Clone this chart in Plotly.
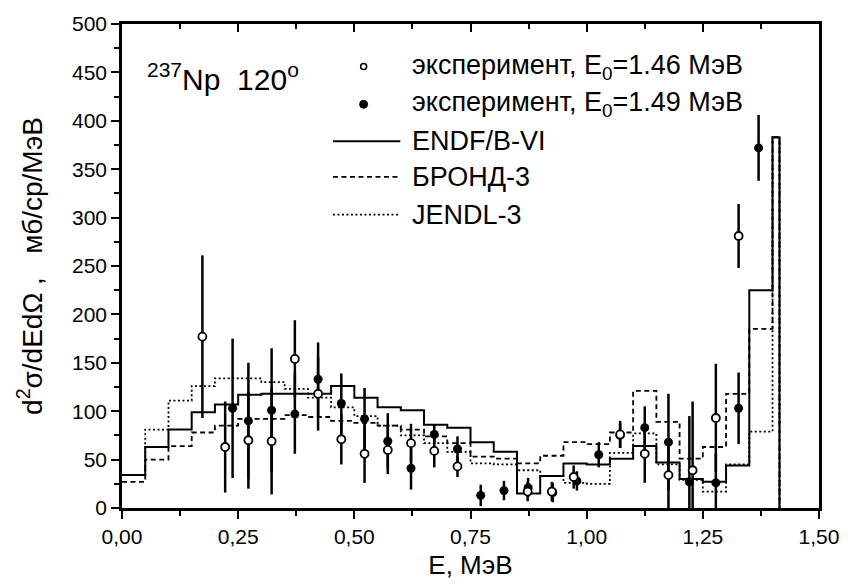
import plotly.graph_objects as go

# ---------------- data ----------------
bin_edges = [0.00, 0.05, 0.10, 0.15, 0.20, 0.25, 0.30, 0.35, 0.40, 0.45,
             0.50, 0.55, 0.60, 0.65, 0.70, 0.75, 0.80, 0.85, 0.90, 0.95,
             1.00, 1.05, 1.10, 1.15, 1.20, 1.25, 1.30, 1.35, 1.40, 1.415]

endf = [34, 63, 81, 99, 107, 117, 118, 118, 118, 126, 114, 104, 101, 86, 83,
        68, 58, 15, 33, 46, 45, 51, 64, 47, 30, 27, 44, 225, 383]
brond = [27, 50, 64, 78, 85, 92, 92, 96, 94, 90, 88, 85, 81, 74, 67,
         53, 51, 46, 54, 68, 66, 78, 121, 89, 51, 63, 118, 185, 383]
jendl = [34, 81, 111, 126, 134, 134, 130, 123, 114, 104, 95, 85, 75, 67, 58,
         46, 45, 39, 33, 26, 25, 57, 77, 45, 29, 17, 45, 79, 383]

open_E = [0.173, 0.222, 0.272, 0.322, 0.372, 0.422, 0.472, 0.522, 0.572, 0.622,
          0.672, 0.722, 0.873, 0.925, 0.972, 1.072, 1.125, 1.176, 1.228, 1.278, 1.327]
open_v = [177, 63, 70, 69, 154, 118, 71, 56, 60, 67,
          59, 43, 17, 17, 32, 76, 56, 34, 39, 93, 281]
open_err = [84, 47, 50, 55, 40, 38, 26, 30, 25, 20,
            17, 11, 10, 10, 12, 14, 30, 34, 71, 56, 33]

filled_E = [0.238, 0.272, 0.322, 0.372, 0.422, 0.472, 0.522, 0.572, 0.622, 0.672,
            0.722, 0.772, 0.822, 0.874, 0.927, 0.979, 1.026, 1.072, 1.125, 1.176,
            1.221, 1.278, 1.327, 1.370]
filled_v = [103, 90, 101, 97, 133, 108, 92, 69, 41, 76,
            61, 13, 18, 21, 16, 28, 55, 75, 83, 68,
            27, 26, 103, 372]
filled_err = [72, 60, 64, 41, 38, 31, 32, 29, 22, 10,
              13, 11, 10, 10, 10, 10, 13, 13, 22, 50,
              68, 30, 37, 34]

x_ticks = [0.00, 0.25, 0.50, 0.75, 1.00, 1.25, 1.50]
y_ticks = [0, 50, 100, 150, 200, 250, 300, 350, 400, 450, 500]

legend_labels = ["эксперимент, E<sub>0</sub>=1.46 МэВ",
                 "эксперимент, E<sub>0</sub>=1.49 МэВ",
                 "ENDF/B-VI", "БРОНД-3", "JENDL-3"]

FONT = "Liberation Sans, Arial, sans-serif"
NB = "\u00a0"


def step_xy(edges, vals):
    xs = list(edges)
    ys = list(vals) + [vals[-1]]
    xs.append(edges[-1])
    ys.append(0)
    return xs, ys


fig = go.Figure()

for vals, dash in [(jendl, "2px,2.5px"), (brond, "5px,3.5px"), (endf, "solid")]:
    xs, ys = step_xy(bin_edges, vals)
    fig.add_trace(go.Scatter(x=xs, y=ys, mode="lines", line_shape="hv",
                             line=dict(color="black", width=2 if dash == "solid" else 1.8, dash=dash),
                             showlegend=False, hoverinfo="skip"))

fig.add_trace(go.Scatter(x=filled_E, y=filled_v, mode="markers",
                         marker=dict(symbol="circle", size=9, color="black"),
                         error_y=dict(type="data", array=filled_err, color="black", thickness=2.5, width=0),
                         showlegend=False))
fig.add_trace(go.Scatter(x=open_E, y=open_v, mode="markers",
                         marker=dict(symbol="circle", size=8, color="white", line=dict(color="black", width=1.8)),
                         error_y=dict(type="data", array=open_err, color="black", thickness=2.5, width=0),
                         showlegend=False))
# invisible trace to activate the top axis (ticks inside)
fig.add_trace(go.Scatter(x=[None], y=[None], xaxis="x2", showlegend=False, hoverinfo="skip"))

# ---------------- legend (manual) ----------------
row_y = [456, 417, 379, 342, 303]
shapes = []
annotations = []
mx = 0.52
shapes.append(dict(type="circle", xref="x", yref="y", xsizemode="pixel", ysizemode="pixel",
                   xanchor=mx, yanchor=row_y[0], x0=-3, x1=3, y0=-3, y1=3,
                   line=dict(color="black", width=1.5), fillcolor="white"))
shapes.append(dict(type="circle", xref="x", yref="y", xsizemode="pixel", ysizemode="pixel",
                   xanchor=mx, yanchor=row_y[1], x0=-4, x1=4, y0=-4, y1=4,
                   line=dict(color="black", width=1), fillcolor="black"))
for yy, dash, w in [(row_y[2], "solid", 2), (row_y[3], "5px,3.5px", 1.8), (row_y[4], "2px,2.5px", 1.8)]:
    shapes.append(dict(type="line", xref="x", yref="y", x0=0.454, x1=0.599, y0=yy, y1=yy,
                       line=dict(color="black", width=w, dash=dash)))
for yy, lab in zip(row_y, legend_labels):
    annotations.append(dict(x=0.62, y=yy, xref="x", yref="y", text=lab, showarrow=False,
                            xanchor="left", yanchor="middle",
                            font=dict(family=FONT, size=27, color="black")))
annotations.append(dict(x=0.05, y=445, xref="x", yref="y",
                        text="<sup>237</sup>Np" + NB * 2 + "120<sup>o</sup>",
                        showarrow=False, xanchor="left", yanchor="middle",
                        font=dict(family=FONT, size=30, color="black")))

fig.update_layout(
    width=851, height=587,
    margin=dict(l=122, r=23, t=18, b=74),
    paper_bgcolor="white", plot_bgcolor="white",
    separators=", ",
    font=dict(family=FONT, color="black"),
    shapes=shapes, annotations=annotations,
    xaxis=dict(range=[0, 1.5], tickvals=x_ticks, tickformat=".2f",
               ticks="outside", ticklen=8, tickwidth=2, tickcolor="black",
               minor=dict(dtick=0.125, tick0=0, ticks="outside", ticklen=5, tickwidth=2, tickcolor="black"),
               showline=True, linecolor="black", linewidth=2.5, mirror=True,
               showgrid=False, zeroline=False,
               tickfont=dict(family=FONT, size=21, color="black"),
               title=dict(text="E, МэВ", font=dict(family=FONT, size=26, color="black"), standoff=9)),
    xaxis2=dict(range=[0, 1.5], overlaying="x", side="top", tickvals=x_ticks,
                ticks="inside", ticklen=8, tickwidth=2, tickcolor="black",
                minor=dict(dtick=0.125, tick0=0, ticks="inside", ticklen=5, tickwidth=2, tickcolor="black"),
                showticklabels=False, showgrid=False, zeroline=False, showline=False),
    yaxis=dict(range=[0, 500], tickvals=y_ticks,
               ticks="outside", ticklen=8, tickwidth=2, tickcolor="black",
               minor=dict(dtick=25, tick0=0, ticks="outside", ticklen=5, tickwidth=2, tickcolor="black"),
               showline=True, linecolor="black", linewidth=2.5, mirror=True,
               showgrid=False, zeroline=False,
               tickfont=dict(family=FONT, size=21, color="black"),
               title=dict(text="d<sup>2</sup>σ/dEdΩ" + NB + "," + NB * 3 + "мб/ср/МэВ",
                          font=dict(family=FONT, size=28, color="black"), standoff=22)),
)

fig.write_html("out.html")
